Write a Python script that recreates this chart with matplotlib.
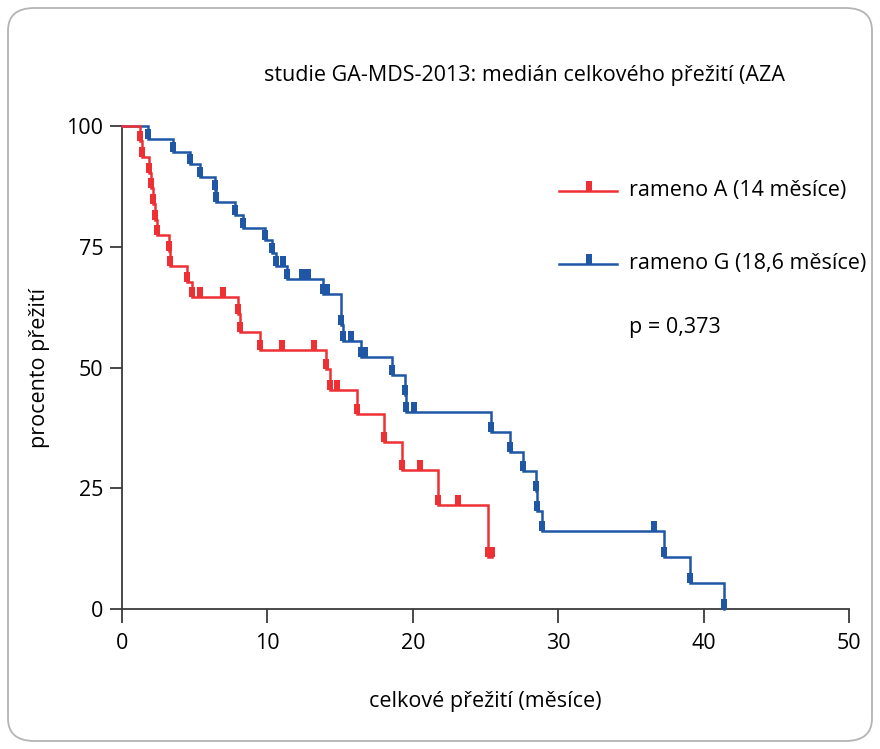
import numpy as np
import matplotlib.pyplot as plt
from matplotlib.patches import FancyBboxPatch

plt.rcParams['font.family'] = ['Open Sans', 'DejaVu Sans']

# rameno A (red) - drop times (months) and survival after each drop (%)
a_times = [1.24, 1.40, 1.88, 2.00, 2.12, 2.28, 2.42, 3.24, 3.30, 4.45, 4.80,
           8.00, 8.10, 9.50, 14.00, 14.30, 16.17, 18.00, 19.26, 21.70, 25.20]
a_surv = [96.8, 93.5, 90.3, 87.1, 83.9, 80.6, 77.4, 74.2, 71.0, 67.7, 64.5,
          61.0, 57.3, 53.7, 49.6, 45.4, 40.3, 34.6, 28.7, 21.5, 10.8]
a_censored = [5.37, 6.98, 11.0, 13.2, 14.77, 20.5, 23.1, 25.45]

# rameno G (blue)
g_times = [1.81, 3.53, 4.68, 5.37, 6.40, 6.45, 7.78, 8.35, 9.85, 10.30, 10.60,
           11.35, 13.80, 15.05, 15.20, 16.45, 18.57, 19.45, 19.50, 25.35, 26.70,
           27.60, 28.50, 28.55, 28.90, 37.28, 39.07, 41.40]
g_surv = [97.4, 94.7, 92.1, 89.5, 86.8, 84.2, 81.6, 78.9, 76.3, 73.7, 71.1,
          68.4, 65.3, 58.9, 55.4, 52.1, 48.4, 44.3, 40.7, 36.6, 32.5,
          28.5, 24.5, 20.3, 16.1, 10.8, 5.3, 0.0]
g_censored = [11.07, 12.4, 12.8, 14.1, 15.75, 16.7, 20.06, 36.6]

red = '#ee3035'
blue = '#1f57a6'

# tick mark sitting on the line, pointing up
tick = [(-0.28, 0), (0.28, 0), (0.28, 1), (-0.28, 1), (-0.28, 0)]


def level_at(times, surv, t):
    i = np.searchsorted(times, t, side='right')
    return 100.0 if i == 0 else surv[i - 1]


def draw_km(ax, times, surv, cens, color):
    end = max(times[-1], max(cens))
    x = [0] + list(times) + [end]
    y = [100] + list(surv) + [surv[-1]]
    ax.step(x, y, where='post', color=color, lw=1.8, solid_joinstyle='miter',
            clip_on=False, zorder=3)
    mx = list(times) + list(cens)
    my = list(surv) + [level_at(times, surv, c) for c in cens]
    ax.plot(mx, my, ls='none', marker=tick, ms=14.5, mew=0, color=color,
            clip_on=False, zorder=4)


fig = plt.figure(figsize=(8.8, 7.49), dpi=100)
fig.patches.append(FancyBboxPatch((8 / 880, 8 / 749), 864 / 880, 733 / 749,
                                  boxstyle='round,pad=0,rounding_size=0.03',
                                  transform=fig.transFigure, fc='none',
                                  ec='#b4b4b4', lw=1.3, zorder=0))
ax = fig.add_axes([122 / 880, 140 / 749, 727 / 880, 483 / 749])
ax.patch.set_alpha(0)

draw_km(ax, g_times, g_surv, g_censored, blue)
draw_km(ax, a_times, a_surv, a_censored, red)

ax.set_xlim(0, 50)
ax.set_ylim(0, 100)
ax.set_xticks([0, 10, 20, 30, 40, 50])
ax.set_yticks([0, 25, 50, 75, 100])
for s in ['top', 'right']:
    ax.spines[s].set_visible(False)
for s in ['left', 'bottom']:
    ax.spines[s].set_color('#3a3a3a')
    ax.spines[s].set_linewidth(1.3)
ax.tick_params(axis='x', length=10, width=1.3, color='#3a3a3a', pad=7, labelsize=15.5)
ax.tick_params(axis='y', length=8.5, width=1.3, color='#3a3a3a', pad=5, labelsize=15.5)

ax.set_xlabel('celkové přežití (měsíce)', fontsize=15.5, labelpad=27)
ax.set_ylabel('procento přežití', fontsize=15.5, labelpad=12)
fig.text(524 / 880, 1 - 75 / 749, 'studie GA-MDS-2013: medián celkového přežití (AZA',
         ha='center', va='center', fontsize=15.5)

# legend drawn by hand
for yy, col, lab in [(190.5, red, 'rameno A (14 měsíce)'),
                     (264, blue, 'rameno G (18,6 měsíce)')]:
    fy = 1 - yy / 749
    fig.add_artist(plt.Line2D([559 / 880, 617 / 880], [fy, fy], color=col, lw=1.8))
    fig.add_artist(plt.Line2D([589 / 880], [fy], ls='none', marker=tick, ms=14.5,
                              mew=0, color=col))
    fig.text(629 / 880, fy, lab, ha='left', va='center', fontsize=15.5)
fig.text(629 / 880, 1 - 327 / 749, 'p = 0,373', ha='left', va='center', fontsize=15.5)

fig.savefig('out.png', dpi=100)
